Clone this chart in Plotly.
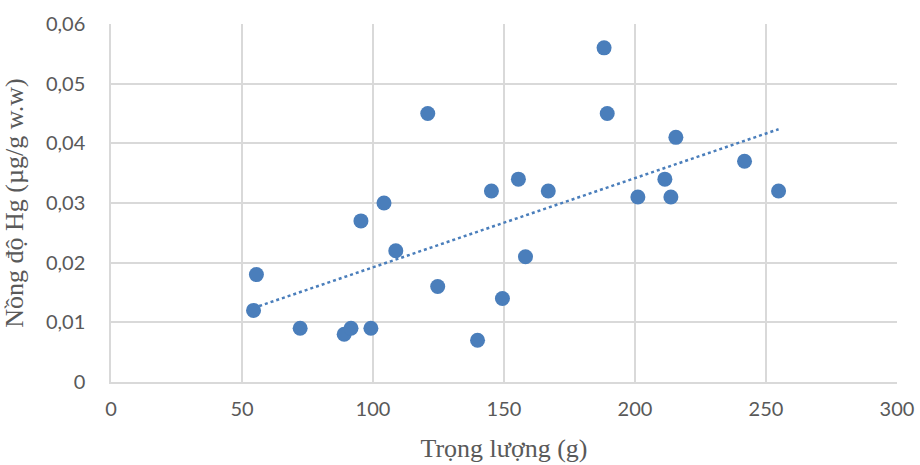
import numpy as np
import plotly.graph_objects as go

weight = [54.4, 55.5, 72.2, 89.0, 91.6, 99.2, 95.4, 104.2, 108.7, 120.9, 124.7,
          139.9, 145.2, 149.4, 155.5, 158.2, 166.9, 188.2, 189.4, 201.1, 211.4,
          213.7, 215.6, 241.8, 254.8]
hg = [0.012, 0.018, 0.009, 0.008, 0.009, 0.009, 0.027, 0.030, 0.022, 0.045, 0.016,
      0.007, 0.032, 0.014, 0.034, 0.021, 0.032, 0.056, 0.045, 0.031, 0.034,
      0.031, 0.041, 0.037, 0.032]

x_title = "Trọng lượng (g)"
y_title = "Nồng độ Hg (µg/g w.w)"

color = "#4a7ebb"

# linear trendline (least squares), spanning the data range
slope, intercept = np.polyfit(weight, hg, 1)
tx = [min(weight), max(weight)]
ty = [slope * v + intercept for v in tx]

fig = go.Figure()
fig.add_trace(go.Scatter(x=tx, y=ty, mode="lines",
                         line=dict(color=color, width=2.5, dash="dot"),
                         hoverinfo="skip", showlegend=False))
fig.add_trace(go.Scatter(x=weight, y=hg, mode="markers",
                         marker=dict(color=color, size=15, line=dict(width=0)),
                         showlegend=False))

tick_font = dict(family="Lato, Open Sans, sans-serif", size=20, color="#595959")
title_font = dict(family="Liberation Serif, Times New Roman, serif", size=26, color="#595959")

fig.update_layout(
    width=920, height=465,
    margin=dict(l=111, r=23, t=24, b=83),
    paper_bgcolor="white", plot_bgcolor="white",
    separators=",.",
    xaxis=dict(range=[0, 300], dtick=50, tick0=0, automargin=False,
               showgrid=True, gridcolor="#d9d9d9", gridwidth=1.5,
               zeroline=False, showline=True, linecolor="#d9d9d9", linewidth=1.5,
               mirror=False, tickfont=tick_font, ticklabelstandoff=8,
               title=dict(text=x_title, font=title_font, standoff=20)),
    yaxis=dict(range=[0, 0.06], dtick=0.01, tick0=0, automargin=False,
               showgrid=True, gridcolor="#d9d9d9", gridwidth=1.5,
               zeroline=False, showline=True, linecolor="#d9d9d9", linewidth=1.5,
               tickfont=tick_font, ticklabelstandoff=20,
               title=dict(text=y_title, font=title_font)),
)

fig.write_html("out.html", config={"displayModeBar": False},
               post_script="document.body.style.margin='0';")
